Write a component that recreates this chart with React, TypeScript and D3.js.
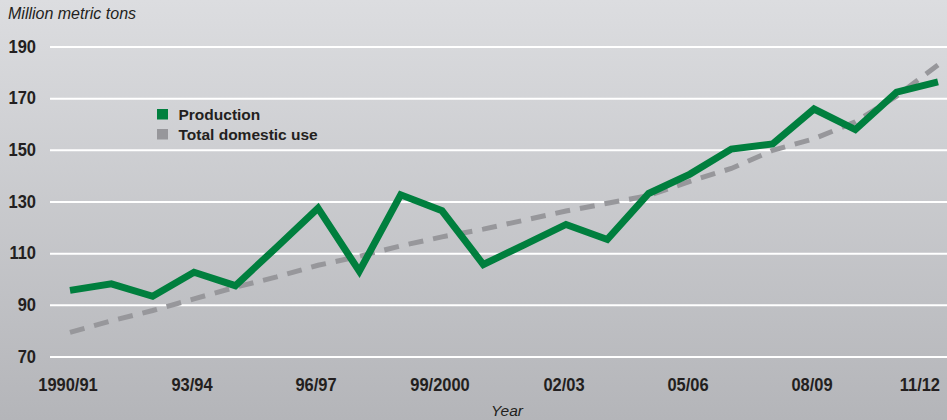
import { useEffect, useRef } from 'react';
import * as d3 from 'd3';

const years = [
  '1990/91', '91/92', '92/93', '93/94', '94/95', '95/96', '96/97', '97/98',
  '98/99', '99/2000', '00/01', '01/02', '02/03', '03/04', '04/05', '05/06',
  '06/07', '07/08', '08/09', '09/10', '10/11', '11/12',
];

const production = [
  95.8, 98.3, 93.5, 102.8, 97.6, 112.5, 127.6, 103.2, 132.8, 126.6, 105.8,
  113.5, 121.3, 115.5, 133.3, 140.8, 150.5, 152.5, 166, 158, 172.5, 176.5,
];

const domesticUse = [
  79.5, 84, 88, 92.5, 97, 101, 105.5, 109, 113, 116.5, 119.5, 123, 126.5,
  129.5, 132.5, 138, 143, 150, 154.5, 161, 171, 183,
];

const yTicks = [70, 90, 110, 130, 150, 170, 190];
const labelledYears = ['1990/91', '93/94', '96/97', '99/2000', '02/03', '05/06', '08/09', '11/12'];

const W = 947;
const H = 420;
const GREEN = '#007f3e';
const GRAY = '#97979b';
const INK = '#231f20';
const FONT = 'Liberation Sans, Arial, Helvetica, sans-serif';

export default function App() {
  const svgRef = useRef<SVGSVGElement>(null);

  useEffect(() => {
    if (!svgRef.current) return;
    const svg = d3.select(svgRef.current);
    svg.selectAll('*').remove();

    const x = d3.scaleLinear().domain([0, years.length - 1]).range([70, 938]);
    const y = d3.scaleLinear().domain([70, 190]).range([357, 47]);

    // background gradient
    const defs = svg.append('defs');
    const grad = defs
      .append('linearGradient')
      .attr('id', 'bg')
      .attr('x1', 0)
      .attr('y1', 0)
      .attr('x2', 0)
      .attr('y2', 1);
    grad.append('stop').attr('offset', '0%').attr('stop-color', '#dcdde0');
    grad.append('stop').attr('offset', '100%').attr('stop-color', '#b4b5b9');
    svg.append('rect').attr('width', W).attr('height', H).attr('fill', 'url(#bg)');

    // grid lines
    svg
      .append('g')
      .selectAll('line')
      .data(yTicks)
      .join('line')
      .attr('x1', 50)
      .attr('x2', W)
      .attr('y1', (d) => y(d))
      .attr('y2', (d) => y(d))
      .attr('stroke', '#ffffff')
      .attr('stroke-width', 2);

    // y tick labels (condensed bold)
    svg
      .append('g')
      .selectAll('text')
      .data(yTicks)
      .join('text')
      .attr('transform', (d) => `translate(36,${y(d) + 5.5}) scale(0.89,1)`)
      .attr('text-anchor', 'end')
      .attr('font-family', FONT)
      .attr('font-weight', 'bold')
      .attr('font-size', 18.5)
      .attr('fill', INK)
      .text((d) => d);

    // x tick labels
    svg
      .append('g')
      .selectAll('text')
      .data(labelledYears)
      .join('text')
      .attr('transform', (d, i) => {
        const idx = years.indexOf(d);
        const last = i === labelledYears.length - 1;
        return `translate(${last ? x(idx) + 2 : x(idx) - 2},391) scale(0.89,1)`;
      })
      .attr('text-anchor', (d, i) => (i === labelledYears.length - 1 ? 'end' : 'middle'))
      .attr('font-family', FONT)
      .attr('font-weight', 'bold')
      .attr('font-size', 18.5)
      .attr('fill', INK)
      .text((d) => d);

    // axis titles
    svg
      .append('text')
      .attr('x', 8)
      .attr('y', 19)
      .attr('font-family', FONT)
      .attr('font-style', 'italic')
      .attr('font-size', 16)
      .attr('fill', INK)
      .text('Million metric tons');

    svg
      .append('text')
      .attr('x', 507)
      .attr('y', 416)
      .attr('text-anchor', 'middle')
      .attr('font-family', FONT)
      .attr('font-style', 'italic')
      .attr('font-size', 15.5)
      .attr('fill', INK)
      .text('Year');

    const line = d3
      .line<number>()
      .x((_, i) => x(i))
      .y((d) => y(d));

    // total domestic use (dashed)
    svg
      .append('path')
      .datum(domesticUse)
      .attr('d', line)
      .attr('fill', 'none')
      .attr('stroke', GRAY)
      .attr('stroke-width', 5)
      .attr('stroke-dasharray', '15,10');

    // production
    svg
      .append('path')
      .datum(production)
      .attr('d', line)
      .attr('fill', 'none')
      .attr('stroke', GREEN)
      .attr('stroke-width', 7)
      .attr('stroke-linejoin', 'miter');

    // legend
    const legend = svg.append('g').attr('transform', 'translate(157,109)');
    const items = [
      { label: 'Production', color: GREEN },
      { label: 'Total domestic use', color: GRAY },
    ];
    items.forEach((item, i) => {
      legend
        .append('rect')
        .attr('x', 0)
        .attr('y', i * 20)
        .attr('width', 11)
        .attr('height', 10.5)
        .attr('fill', item.color);
      legend
        .append('text')
        .attr('x', 21.5)
        .attr('y', i * 20 + 10.5)
        .attr('font-family', FONT)
        .attr('font-weight', 'bold')
        .attr('font-size', 15.5)
        .attr('fill', INK)
        .text(item.label);
    });
  }, []);

  return (
    <svg
      ref={svgRef}
      width={W}
      height={H}
      style={{ position: 'absolute', left: 0, top: 0, display: 'block' }}
    />
  );
}
